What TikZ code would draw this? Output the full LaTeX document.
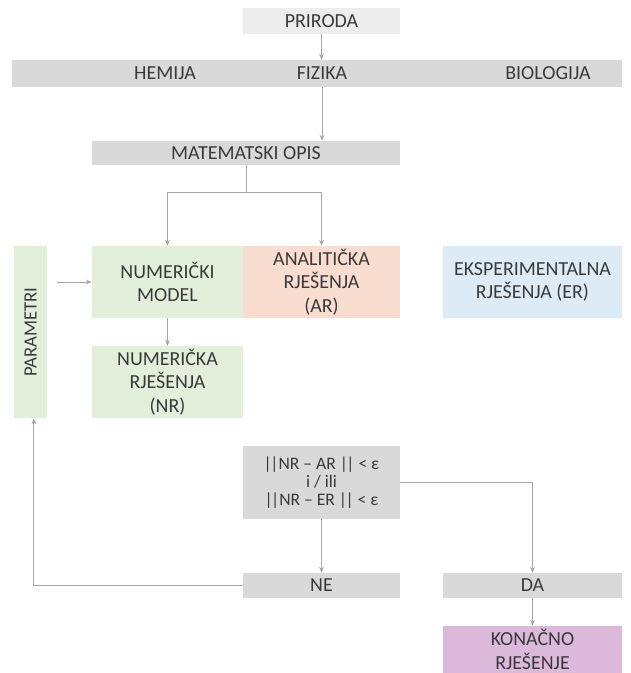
\documentclass[tikz,border=0pt]{standalone}
\usepackage{fontspec}
\setmainfont{Carlito}
\usetikzlibrary{arrows.meta}
\definecolor{svijetlosiva}{HTML}{EDEDED}
\definecolor{siva}{HTML}{D9D9D9}
\definecolor{zelena}{HTML}{E2EFDA}
\definecolor{losos}{HTML}{F9DDD0}
\definecolor{plava}{HTML}{DDEBF7}
\definecolor{ljubicasta}{HTML}{DCB8DB}
\definecolor{linija}{HTML}{A6A6A6}
\definecolor{tekst}{HTML}{3A3A3A}
\newcommand{\normaznak}{|\kern-1.2pt|}
\begin{document}
\begin{tikzpicture}[x=0.03cm,y=-0.03cm,>={Stealth[length=5pt,width=4pt]},
  kutija/.style = {rectangle, inner sep = 0pt, align = center, font = \fontsize{17}{20}\selectfont, text = tekst},
  veza/.style = {draw = linija, line width = 0.8pt},]
\useasboundingbox (0,0) rectangle (630,673);
\node (priroda) at (321.5,21)[kutija,fill=svijetlosiva,minimum width=157*0.03cm,minimum height=26*0.03cm] {PRIRODA};
\node (nauke) at (317,73.5)[kutija,fill=siva,minimum width=610*0.03cm,minimum height=27*0.03cm] {};
\node (hemija) at (165,73.5)[kutija] {HEMIJA};
\node (fizika) at (322,73.5)[kutija] {FIZIKA};
\node (biologija) at (548,73.5)[kutija] {BIOLOGIJA};
\node (opis) at (246,153)[kutija,fill=siva,minimum width=308*0.03cm,minimum height=24*0.03cm] {MATEMATSKI OPIS};
\coordinate (grana) at (246,192);
\node (model) at (167.5,282)[kutija,fill=zelena,minimum width=151*0.03cm,minimum height=72*0.03cm] {NUMERIČKI\\MODEL};
\node (ar) at (321.5,282)[kutija,fill=losos,minimum width=157*0.03cm,minimum height=72*0.03cm] {ANALITIČKA\\RJEŠENJA\\(AR)};
\node (er) at (532.5,282)[kutija,fill=plava,minimum width=179*0.03cm,minimum height=72*0.03cm] {EKSPERIMENTALNA\\RJEŠENJA (ER)};
\node (parametri) at (30.5,332)[kutija,fill=zelena,minimum width=33*0.03cm,minimum height=172*0.03cm] {};
\node (parnatpis) at (30.5,332)[kutija,rotate=90,font=\fontsize{16}{19}\selectfont] {PARAMETRI};
\coordinate (parizlaz) at (57,282);
\node (nr) at (167.5,382)[kutija,fill=zelena,minimum width=151*0.03cm,minimum height=72*0.03cm] {NUMERIČKA\\RJEŠENJA\\(NR)};
\node (uslov) at (321.5,482.5)[kutija,fill=siva,minimum width=157*0.03cm,minimum height=73*0.03cm,font=\fontsize{15}{15.5}\selectfont] {\normaznak NR – AR \normaznak{} < ε\\i / ili\\\normaznak NR – ER \normaznak{} < ε};
\node (ne) at (321.5,585.5)[kutija,fill=siva,minimum width=157*0.03cm,minimum height=25*0.03cm] {NE};
\node (da) at (532.5,585.5)[kutija,fill=siva,minimum width=179*0.03cm,minimum height=25*0.03cm] {DA};
\node (konacno) at (532.5,649.5)[kutija,fill=ljubicasta,minimum width=179*0.03cm,minimum height=47*0.03cm] {KONAČNO\\RJEŠENJE};
\draw[veza,->] (priroda.south) -- (priroda.south|-nauke.north);
\draw[veza,->] (fizika.south|-nauke.south) -- (fizika.south|-opis.north);
\draw[veza] (grana|-opis.south) -- (grana);
\draw[veza,->] (grana) -| (model.north);
\draw[veza,->] (grana) -| (ar.north);
\draw[veza,->] (parizlaz) -- (parizlaz-|model.west);
\draw[veza,->] (model.south) -- (nr.north);
\draw[veza,->] (uslov.south) -- (ne.north);
\draw[veza,->] (uslov.east) -| (da.north);
\draw[veza,->] (ne.west) -| ([xshift=0.1cm]parametri.south);
\draw[veza,->] (da.south) -- (konacno.north);
\end{tikzpicture}
\end{document}
